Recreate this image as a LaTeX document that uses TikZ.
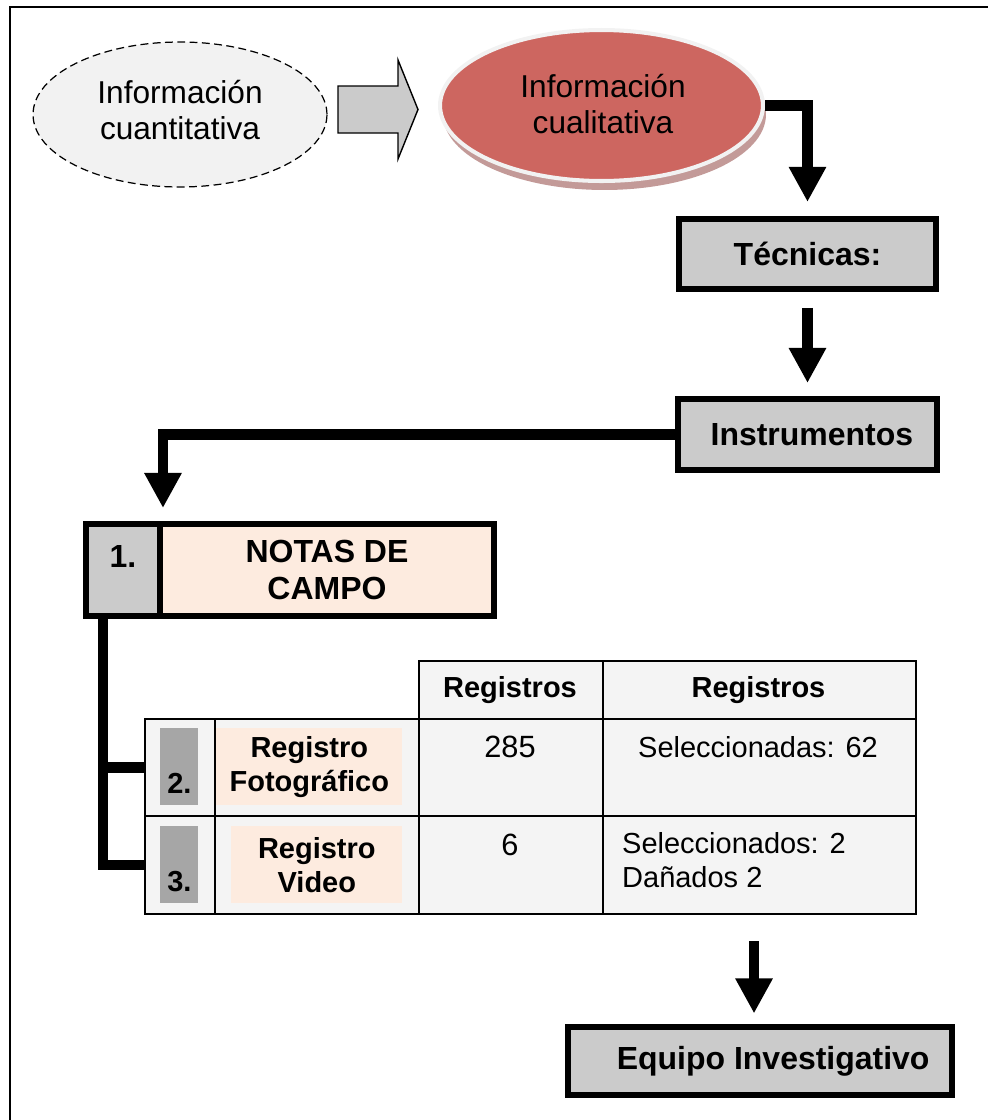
\documentclass[tikz,border=0pt]{standalone}
\usepackage{fontspec}
\setmainfont{Liberation Sans}
\usetikzlibrary{shapes.geometric,arrows.meta,positioning}
\definecolor{grisclaro}{HTML}{F2F2F2}
\definecolor{grismedio}{HTML}{CBCBCB}
\definecolor{grisoscuro}{HTML}{A6A6A6}
\definecolor{rojizo}{HTML}{CD6660}
\definecolor{sombra}{HTML}{C39A98}
\definecolor{durazno}{HTML}{FDEBDF}
\definecolor{fondotabla}{HTML}{F4F4F4}
\begin{document}
\begin{tikzpicture}[x=0.02cm, y=-0.02cm, line join=miter,
	textogr/.style={font=\fontsize{18}{21}\selectfont, align=center},
	textotab/.style={font=\fontsize{16.5}{19.3}\selectfont},
	caja/.style={draw, line width=3.4pt, fill=grismedio, inner sep=0pt, font=\bfseries\fontsize{18.2}{21}\selectfont},
	flecha/.style={line width=6pt, -{Triangle[length=20pt,width=20pt]}},
	linea/.style={line width=6pt},
	celda/.style={draw, line width=1.1pt, fill=fondotabla, inner sep=0pt, anchor=north west},
	numfila/.style={fill=grisoscuro, inner xsep=0pt, inner ysep=6.8pt, text height=30pt, text depth=0pt, minimum width=0.76cm, anchor=north west, font=\bfseries\fontsize{16.5}{19.3}\selectfont},
	nombrefila/.style={fill=durazno, inner sep=0pt, minimum height=1.54cm, anchor=north west, align=center, font=\bfseries\fontsize{16.5}{19.3}\selectfont}]
	\useasboundingbox (0,0) rectangle (988,1120);
	% marco
	\draw[line width=1.2pt] (988,7) -- (10,7) -- (10,1120);
	% elipses de arriba
	\node[ellipse, draw, dash pattern=on 4.5pt off 2.5pt, line width=0.7pt, fill=grisclaro, minimum width=5.88cm, minimum height=2.9cm, inner sep=0pt] (cuanti) at (180,114.5) {};
	\node[textogr] (cuantitxt) at (180,110) {Información\\cuantitativa};
	\draw[line width=0.8pt, fill=grismedio] (338,86) -- (398,86) -- (398,60) -- (418,109.5) -- (398,159) -- (398,133) -- (338,133) -- cycle;
	\node[ellipse, fill=sombra, minimum width=6.46cm, minimum height=3.02cm, inner sep=0pt] (sombracual) at (604.5,114.5) {};
	\node[ellipse, draw=grisclaro, line width=2.3pt, fill=rojizo, minimum width=6.46cm, minimum height=3.02cm, inner sep=0pt] (cual) at (601.5,105.5) {};
	\node[textogr] (cualtxt) at (603,104) {Información\\cualitativa};
	% cajas grises
	\node[caja, minimum width=5.14cm, minimum height=1.4cm] (tec) at (807.5,254) {Técnicas:};
	\node[caja, minimum width=5.18cm, minimum height=1.42cm] (inst) at (807.5,434.5) {\hspace{5pt}Instrumentos};
	\node[caja, minimum width=7.68cm, minimum height=1.36cm] (equipo) at (760,1061) {\hspace{15pt}Equipo Investigativo};
	% notas de campo
	\node[draw, line width=3.4pt, fill=grismedio, minimum width=1.48cm, minimum height=1.84cm, inner sep=0pt, text depth=15.8pt, font=\bfseries\fontsize{18.2}{21}\selectfont] (num1) at (123,570) {1.};
	\node[draw, line width=3.4pt, fill=durazno, minimum width=6.68cm, minimum height=1.84cm, inner sep=0pt, align=center, font=\bfseries\fontsize{18.2}{21}\selectfont] (notas) at (327,570) {NOTAS DE\\CAMPO};
	% tabla
	\node[celda, minimum width=3.68cm, minimum height=1.16cm] (h1) at (418,660) {};
	\node[celda, minimum width=6.26cm, minimum height=1.16cm] (h2) at (602,660) {};
	\foreach \fila/\ytop/\alto in {2/718/1.94cm, 3/815/1.96cm}{
		\node[celda, minimum width=1.4cm, minimum height=\alto] (c\fila1) at (144,\ytop) {};
		\node[celda, minimum width=4.08cm, minimum height=\alto] (c\fila2) at (214,\ytop) {};
		\node[celda, minimum width=3.68cm, minimum height=\alto] (c\fila3) at (418,\ytop) {};
		\node[celda, minimum width=6.26cm, minimum height=\alto] (c\fila4) at (602,\ytop) {};
	}
	\node[numfila] (n2) at (160,728) {2.};
	\node[numfila] (n3) at (160,826) {3.};
	\node[nombrefila, minimum width=3.72cm] (foto) at (216,728) {Registro\\Fotográfico};
	\node[nombrefila, minimum width=3.42cm] (video) at (231,826) {Registro\\Video};
	\node[textotab, font=\bfseries\fontsize{16.5}{19.3}\selectfont] (reg1) at (510,690) {Registros};
	\node[textotab, font=\bfseries\fontsize{16.5}{19.3}\selectfont] (reg2) at (758.5,690) {Registros};
	\node[textotab, font=\fontsize{17.5}{20}\selectfont] (t285) at (510,747) {285};
	\node[textotab, font=\fontsize{17.5}{20}\selectfont] (t6) at (510,845) {6};
	\node[textotab] (sel62) at (758,747) {Seleccionadas: 62};
	\node[textotab, anchor=west, align=left] (sel2) at (616,860) {Seleccionados: 2\\Dañados 2};
	% conectores
	\draw[flecha] (cual.east) -| ([yshift=8pt]tec.north);
	\draw[flecha] ([yshift=-9pt]tec.south) -- ([yshift=7.4pt]inst.north);
	\draw[flecha] (inst.west) -| ([yshift=7.4pt]num1.north east);
	\draw[linea] ([xshift=11.3pt]num1.south west) |- (c31.west);
	\draw[linea] ([xshift=11.3pt]num1.south west) |- (c21.west);
	\draw[flecha] ([xshift=-3.4pt,yshift=47pt]equipo.north) -- ([xshift=-3.4pt,yshift=6pt]equipo.north);
\end{tikzpicture}
\end{document}
